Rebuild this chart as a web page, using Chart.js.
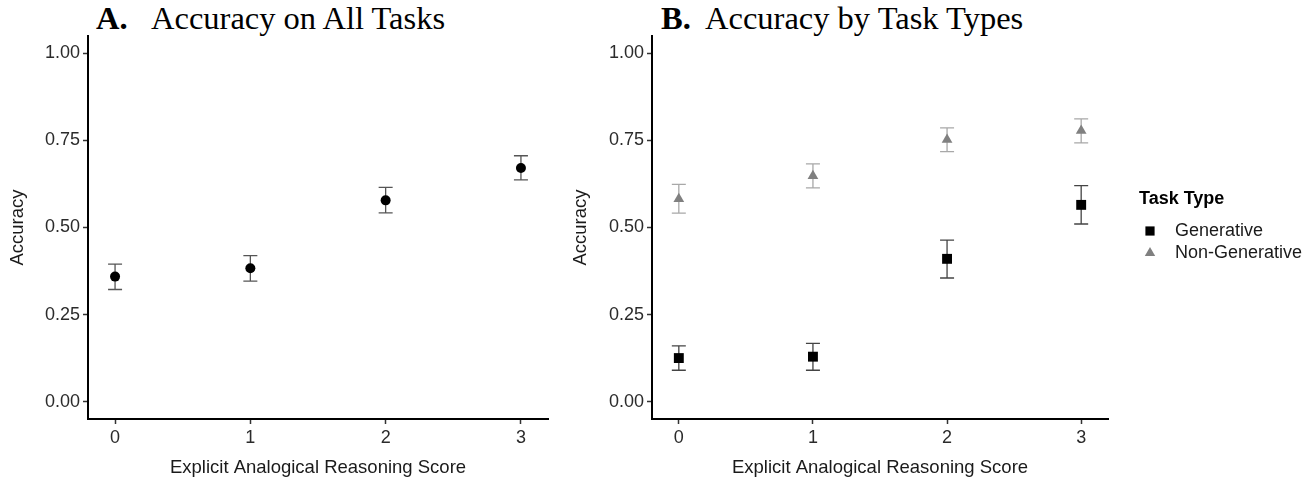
<!DOCTYPE html>
<html>
<head>
<meta charset="utf-8">
<script src="https://cdn.jsdelivr.net/npm/chart.js@4.4.0/dist/chart.umd.min.js"></script>
<style>
  body { margin: 0; background: #fff; }
  #wrap { position: relative; width: 1315px; height: 480px; overflow: hidden; }
  canvas { position: absolute; top: 0; }
  .ttl { position: absolute; top: 2px; font-size: 32.5px; line-height: 32px; white-space: nowrap; color: #000;
         font-family: "Liberation Serif", "Times New Roman", serif; }
  .ttl b { font-weight: bold; }
</style>
</head>
<body>
<div id="wrap">
  <div class="ttl" style="left:96px"><b>A.</b></div>
  <div class="ttl" style="left:151px">Accuracy on All Tasks</div>
  <div class="ttl" style="left:661px"><b>B.</b></div>
  <div class="ttl" style="left:705px">Accuracy by Task Types</div>
  <canvas id="allChart" width="560" height="480" style="left:0"></canvas>
  <canvas id="typeChart" width="755" height="480" style="left:560px"></canvas>
</div>
<script>
// data
const scores = [0, 1, 2, 3];
const yTicks = [0, 0.25, 0.5, 0.75, 1];

const allAcc  = [0.359, 0.383, 0.578, 0.671];
const allLow  = [0.322, 0.346, 0.542, 0.637];
const allHigh = [0.395, 0.419, 0.615, 0.706];

const genAcc  = [0.125, 0.129, 0.410, 0.565];
const genLow  = [0.090, 0.090, 0.355, 0.510];
const genHigh = [0.160, 0.167, 0.464, 0.620];

const nonGenAcc  = [0.582, 0.648, 0.752, 0.778];
const nonGenLow  = [0.541, 0.614, 0.718, 0.743];
const nonGenHigh = [0.624, 0.683, 0.786, 0.812];

const sans = '"Liberation Sans", Arial, Helvetica, sans-serif';

const toPoints = vals => scores.map((s, i) => ({ x: s, y: vals[i] }));

// error bars, drawn under the points
const errorBars = {
  id: 'errorBars',
  beforeDatasetsDraw(chart) {
    const { ctx, scales: { x, y } } = chart;
    chart.data.datasets.forEach(ds => {
      ctx.save();
      ctx.strokeStyle = ds.errColor;
      ctx.lineWidth = 1.3;
      ds.data.forEach((p, i) => {
        const px = x.getPixelForValue(p.x);
        const top = y.getPixelForValue(ds.errHigh[i]);
        const bot = y.getPixelForValue(ds.errLow[i]);
        ctx.beginPath();
        ctx.moveTo(px, top); ctx.lineTo(px, bot);
        ctx.moveTo(px - 7, top); ctx.lineTo(px + 7, top);
        ctx.moveTo(px - 7, bot); ctx.lineTo(px + 7, bot);
        ctx.stroke();
      });
      ctx.restore();
    });
  }
};

// legend at right of panel B
const taskLegend = {
  id: 'taskLegend',
  afterDraw(chart) {
    const ctx = chart.ctx;
    const left = chart.chartArea.right;
    ctx.save();
    ctx.textBaseline = 'middle';
    ctx.textAlign = 'left';
    ctx.fillStyle = '#000';
    ctx.font = 'bold 18px ' + sans;
    ctx.fillText('Task Type', left + 31, 199);
    ctx.font = '18px ' + sans;
    chart.data.datasets.forEach((ds, i) => {
      const cy = 231 + i * 22;
      ctx.fillStyle = ds.backgroundColor;
      ctx.strokeStyle = ds.backgroundColor;
      Chart.helpers.drawPoint(ctx, { pointStyle: ds.pointStyle, radius: ds.legendRadius, rotation: 0, borderWidth: 0 }, left + 42, cy);
      ctx.fillStyle = '#1a1a1a';
      ctx.fillText(ds.label, left + 67, cy);
    });
    ctx.restore();
  }
};

function makeScales(yWidth, yTitlePad) {
  return {
    x: {
      type: 'linear', min: -0.2, max: 3.2,
      afterBuildTicks: s => { s.ticks = scores.map(v => ({ value: v })); },
      afterFit: s => { s.height = 61; },
      grid: { display: true, drawOnChartArea: false, drawTicks: true, tickLength: 5, tickWidth: 1.5, tickColor: '#333' },
      border: { display: true, color: '#000', width: 2 },
      ticks: { color: '#2b2b2b', font: { family: sans, size: 18 }, padding: 3, maxRotation: 0, callback: v => String(v) },
      title: { display: true, text: 'Explicit Analogical Reasoning Score', color: '#1a1a1a',
               font: { family: sans, size: 18.5 }, padding: { top: 0, bottom: 1 } }
    },
    y: {
      type: 'linear', min: -0.05, max: 1.05,
      afterBuildTicks: s => { s.ticks = yTicks.map(v => ({ value: v })); },
      afterFit: s => { s.width = yWidth; },
      grid: { display: true, drawOnChartArea: false, drawTicks: true, tickLength: 5, tickWidth: 1.5, tickColor: '#333' },
      border: { display: true, color: '#000', width: 2 },
      ticks: { color: '#2b2b2b', font: { family: sans, size: 18 }, padding: 3, callback: v => v.toFixed(2) },
      title: { display: true, text: 'Accuracy', color: '#1a1a1a',
               font: { family: sans, size: 18.5 }, padding: { top: yTitlePad, bottom: 0 } }
    }
  };
}

const baseOptions = (yWidth, yTitlePad, padRight) => ({
  responsive: false,
  animation: false,
  devicePixelRatio: 1,
  layout: { padding: { top: 36, right: padRight, bottom: 0, left: 0 } },
  plugins: { legend: { display: false }, tooltip: { enabled: false } },
  scales: makeScales(yWidth, yTitlePad)
});

new Chart(document.getElementById('allChart'), {
  type: 'scatter',
  data: {
    datasets: [{
      label: 'All Tasks',
      data: toPoints(allAcc),
      errLow: allLow, errHigh: allHigh, errColor: '#555',
      pointStyle: 'circle', pointRadius: 5,
      backgroundColor: '#000', borderColor: '#000', borderWidth: 0
    }]
  },
  options: baseOptions(88, 7, 12),
  plugins: [errorBars]
});

new Chart(document.getElementById('typeChart'), {
  type: 'scatter',
  data: {
    datasets: [{
      label: 'Generative',
      data: toPoints(genAcc),
      errLow: genLow, errHigh: genHigh, errColor: '#444',
      pointStyle: 'rect', pointRadius: 7, legendRadius: 6.5,
      backgroundColor: '#000', borderColor: '#000', borderWidth: 0
    }, {
      label: 'Non-Generative',
      data: toPoints(nonGenAcc),
      errLow: nonGenLow, errHigh: nonGenHigh, errColor: '#a8a8a8',
      pointStyle: 'triangle', pointRadius: 6.2, legendRadius: 6,
      backgroundColor: '#808080', borderColor: '#808080', borderWidth: 0
    }]
  },
  options: baseOptions(92, 10, 207),
  plugins: [errorBars, taskLegend]
});
</script>
</body>
</html>
